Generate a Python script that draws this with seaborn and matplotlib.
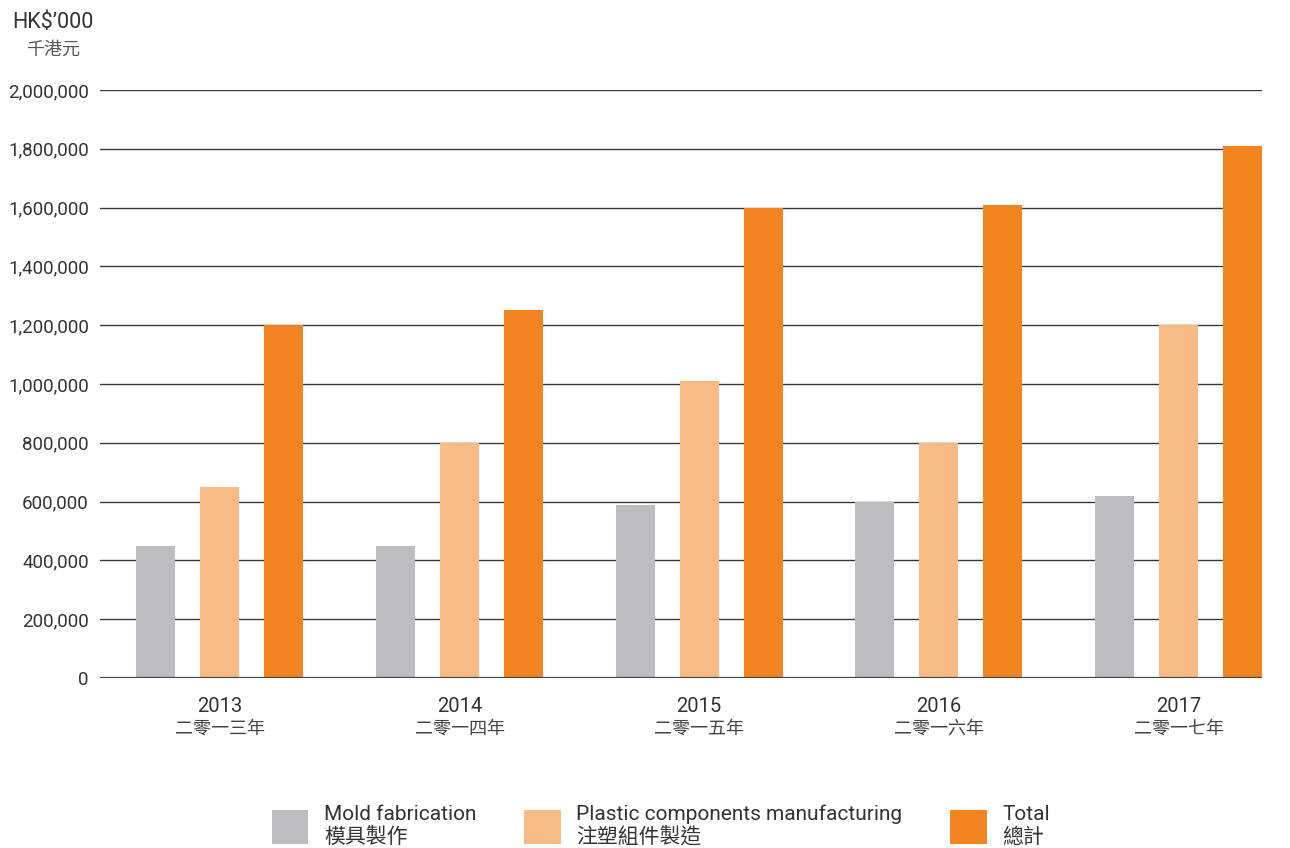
import matplotlib
matplotlib.use("Agg")
import matplotlib.pyplot as plt
import seaborn as sns
import pandas as pd
from matplotlib.patches import Patch
from matplotlib.ticker import FuncFormatter

years = ["2013", "2014", "2015", "2016", "2017"]
years_zh = ["二零一三年", "二零一四年", "二零一五年", "二零一六年", "二零一七年"]
series_en = ["Mold fabrication", "Plastic components manufacturing", "Total"]
series_zh = ["模具製作", "注塑組件製造", "總計"]
mold = [450000, 450000, 590000, 600000, 620000]
plastic = [650000, 800000, 1010000, 800000, 1200000]
total = [1200000, 1250000, 1600000, 1610000, 1810000]
colors = ["#BCBDC0", "#F9BB86", "#F38422"]
yticks = [0, 200000, 400000, 600000, 800000, 1000000, 1200000, 1400000, 1600000, 1800000, 2000000]

sns.set_theme(style="white")
plt.rcParams["font.family"] = ["Roboto", "Noto Sans CJK TC", "DejaVu Sans"]

rows = []
for vals, name in zip([mold, plastic, total], series_en):
    for y, v in zip(years, vals):
        rows.append({"year": y, "series": name, "value": v})
df = pd.DataFrame(rows)

fig = plt.figure(figsize=(12.9, 8.48), dpi=100)
ax = fig.add_axes([0.0775, 0.2005, 0.9008, 0.6934])

for t in yticks[1:]:
    ax.axhline(t, color="#3a3a3a", lw=1.0, zorder=0)
ax.axhline(0, color="#444444", lw=1.6, zorder=3)

sns.barplot(data=df, x="year", y="value", hue="series", hue_order=series_en,
            palette=colors, width=0.8, gap=0.39, saturation=1, legend=False,
            linewidth=0, edgecolor="none", ax=ax, zorder=2)

ax.set_xlim(-0.5, 4.348)
ax.set_ylim(0, 2000000)
ax.set_yticks(yticks)
ax.yaxis.set_major_formatter(FuncFormatter(lambda v, p: f"{int(v):,}"))
ax.tick_params(axis="y", length=0, pad=8, labelsize=13.5, labelcolor="#333333")
ax.tick_params(axis="x", length=0, pad=14, labelsize=14.5, labelcolor="#333333")
ax.set_xlabel("")
ax.set_ylabel("")
for s in ax.spines.values():
    s.set_visible(False)

for i, zh in enumerate(years_zh):
    ax.text(i, -0.087, zh, transform=ax.get_xaxis_transform(), ha="center",
            va="center", fontsize=13, color="#444444")

fig.text(12 / 1290, 1 - 22 / 848, "HK$’000", fontsize=15.5, color="#333333",
         ha="left", va="center")
fig.text(53 / 1290, 1 - 50 / 848, "千港元", fontsize=13, color="#555555",
         ha="center", va="center")

handles = [Patch(facecolor=c, edgecolor="none") for c in colors]
labels = [f"{e}\n{z}" for e, z in zip(series_en, series_zh)]
fig.legend(handles, labels, loc="center", bbox_to_anchor=(661 / 1290, 1 - 826 / 848),
           ncol=3, frameon=False, fontsize=15, handlelength=1.75, handleheight=2.2,
           handletextpad=0.75, columnspacing=2.3, labelcolor="#333333",
           labelspacing=0.2)

fig.savefig("out.png", dpi=100)
